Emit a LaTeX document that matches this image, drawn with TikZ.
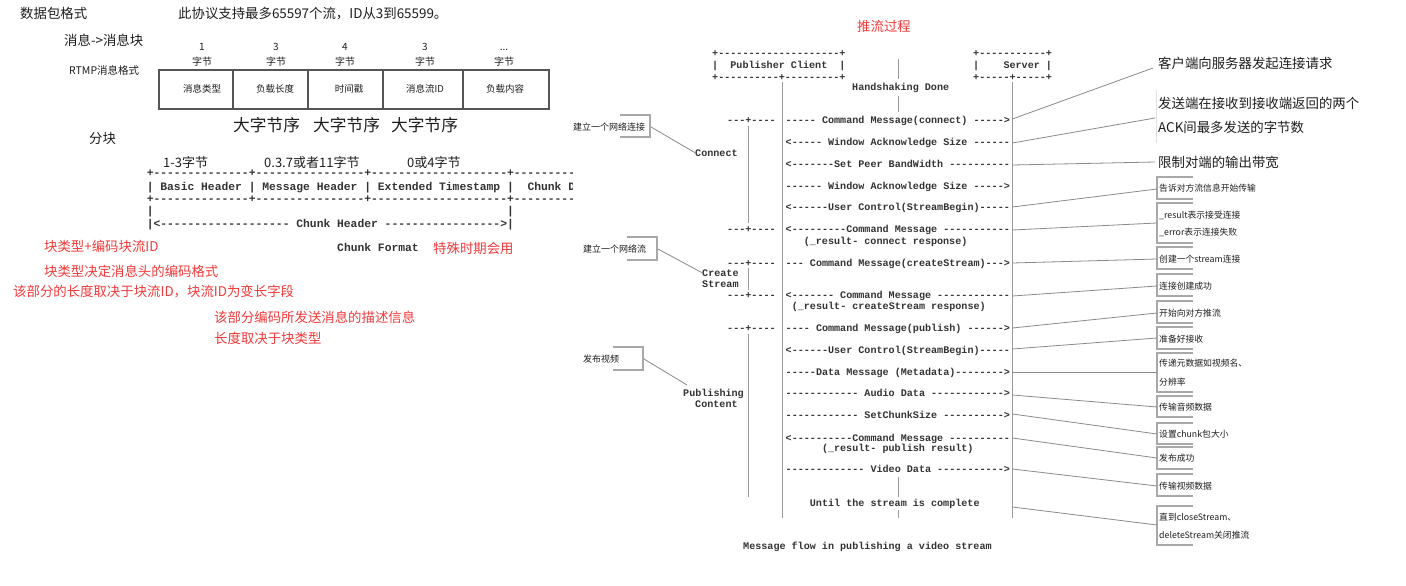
\documentclass[tikz,border=0pt]{standalone}
\usepackage{fontspec}
\setmonofont{Liberation Mono}
\newfontfamily\cjk{Noto Sans CJK SC}
\definecolor{rred}{HTML}{F23A3A}
\definecolor{ink}{HTML}{1E1E1E}
\definecolor{asc}{HTML}{333333}
\definecolor{lgray}{HTML}{8A8A8A}
\definecolor{bgray}{HTML}{A8A8A8}
\definecolor{lifec}{HTML}{9A9A9A}
\definecolor{rectc}{HTML}{555555}
\tikzset{
  cj/.style={font=\cjk\fontsize{#1}{#1}\selectfont, inner sep=0pt, anchor=base west, yshift={-0.38*#1pt}, text=ink},
  cjc/.style={cj=#1, anchor=base},
  redtxt/.style={text=rred},
  ms/.style={font=\ttfamily\bfseries\fontsize{#1}{#1}\selectfont, inner sep=0pt, anchor=base west, yshift={-0.3*#1pt}, text=asc},
  lifeline/.style={draw=lifec, line width=0.8pt},
  callout/.style={draw=lgray, line width=0.8pt},
  brk/.style={draw=bgray, line width=1.2pt},
}
\begin{document}
\begin{tikzpicture}[x=1pt,y=-1pt]
\useasboundingbox (0,0) rectangle (1406,586);
\fill[white] (0,0) rectangle (1406,586);

% ---------------- left: packet format ----------------
\node[cj=13.4] (t1) at (20,13) {数据包格式};
\node[cj=13.4] (t2) at (178,13) {此协议支持最多65597个流，ID从3到65599。};
\node[cj=13.4] (t3) at (64,40) {消息->消息块};
\node[cj=10.5] (t4) at (69,71) {RTMP消息格式};

\node[cjc=10] (n1) at (202,47) {1};
\node[cjc=10] (n2) at (276,47) {3};
\node[cjc=10] (n3) at (345,47) {4};
\node[cjc=10] (n4) at (425,47) {3};
\node[cjc=10] (n5) at (504,47) {...};
\node[cjc=10] (b1) at (202,62) {字节};
\node[cjc=10] (b2) at (276,62) {字节};
\node[cjc=10] (b3) at (345,62) {字节};
\node[cjc=10] (b4) at (425,62) {字节};
\node[cjc=10] (b5) at (504,62) {字节};

\draw[draw=rectc, line width=1.1pt] (159,70) rectangle (549,109);
\foreach \xx in {233,308,383,463} \draw[draw=rectc, line width=1.1pt] (\xx,70) -- (\xx,109);
\node[cjc=9.5] (c1) at (202,89) {消息类型};
\node[cjc=9.5] (c2) at (275,89) {负载长度};
\node[cjc=9.5] (c3) at (349,89) {时间戳};
\node[cjc=9.5] (c4) at (425,89) {消息流ID};
\node[cjc=9.5] (c5) at (505,89) {负载内容};

\node[cj=16.7] (e1) at (233,125) {大字节序};
\node[cj=16.7] (e2) at (313,125) {大字节序};
\node[cj=16.7] (e3) at (391,125) {大字节序};

\node[cj=13.4] (fk) at (89,138) {分块};
\node[cj=13] (s1) at (163,163) {1-3字节};
\node[cj=13] (s2) at (264,163) {0.3.7或者11字节};
\node[cj=13] (s3) at (407,163) {0或4字节};

\begin{scope}
\clip (0,0) rectangle (572,586);
\node[ms=11.33] (r1) at (146.6,173) {+--------------+----------------+--------------------+---------};
\node[ms=11.33] (r2) at (146.6,187) {|~Basic~Header~|~Message~Header~|~Extended~Timestamp~|~~Chunk~Data};
\node[ms=11.33] (r3) at (146.6,199) {+--------------+----------------+--------------------+---------};
\end{scope}
\node[ms=11.33] (r4a) at (146.6,211) {|};
\node[ms=11.33] (r4b) at (507,211) {|};
\node[ms=11.33] (r5) at (146.6,224) {|<------------------- Chunk Header ----------------->|};
\node[ms=11.33] (cf) at (337,248) {Chunk~Format};

\node[cj=13.4, redtxt] (q1) at (44,246) {块类型+编码块流ID};
\node[cj=13.4, redtxt] (q2) at (433,248) {特殊时期会用};
\node[cj=13.4, redtxt] (q3) at (44,271) {块类型决定消息头的编码格式};
\node[cj=13.4, redtxt] (q4) at (13,291) {该部分的长度取决于块流ID，块流ID为变长字段};
\node[cj=13.4, redtxt] (q5) at (214,317) {该部分编码所发送消息的描述信息};
\node[cj=13.4, redtxt] (q6) at (214,338) {长度取决于块类型};

% ---------------- right: publishing flow ----------------
\node[cj=13.4, redtxt] (ttl) at (857,26) {推流过程};

\node[ms=10.1] (cb1) at (712,53) {+--------------------+};
\node[ms=10.1] (cb2) at (712,65) {|~~Publisher~Client~~|};
\node[ms=10.1] (cb3) at (712,77) {+----------+---------+};
\node[ms=10.1] (sb1) at (973,53) {+-----------+};
\node[ms=10.1] (sb2) at (973,65) {|~~~~Server~|};
\node[ms=10.1] (sb3) at (973,77) {+-----+-----+};

\coordinate (cl0) at (782.5,82);  \coordinate (cl1) at (782.5,518);
\coordinate (sl0) at (1012.4,82); \coordinate (sl1) at (1012.4,518);
\draw[lifeline] (cl0) -- (cl1);
\draw[lifeline] (sl0) -- (sl1);
\draw[lifeline] (898.5,59) -- (898.5,79);
\draw[lifeline] (898.5,96) -- (898.5,112);
\draw[lifeline] (898.5,477) -- (898.5,497);
\draw[lifeline] (898.5,510) -- (898.5,518);

\node[ms=10.1] (hd) at (852,87) {Handshaking~Done};

% brackets on the left of the client line
\node[ms=10.1] (k1) at (727,120) {---+----};
\node[ms=10.1] (k2) at (727,229) {---+----};
\node[ms=10.1] (k3) at (727,263) {---+----};
\node[ms=10.1] (k4) at (727,295) {---+----};
\node[ms=10.1] (k5) at (727,328) {---+----};
\draw[lifeline] (748.2,126) -- (748.2,223);
\draw[lifeline] (748.2,268) -- (748.2,290);
\draw[lifeline] (748.2,334) -- (748.2,497);

\node[ms=10.1] (lc) at (695,153) {Connect};
\node[ms=10.1] (lcs1) at (702,273) {Create};
\node[ms=10.1] (lcs2) at (702,284) {Stream};
\node[ms=10.1] (lp1) at (683,393) {Publishing};
\node[ms=10.1] (lp2) at (695,404) {Content};

% messages
\node[ms=10.1] (m1) at (785.5,120) {-----~Command~Message(connect)~----->};
\node[ms=10.1] (m2) at (785.5,142) {<-----~Window~Acknowledge~Size~------};
\node[ms=10.1] (m3) at (785.5,164) {<-------Set~Peer~BandWidth~----------};
\node[ms=10.1] (m4) at (785.5,186) {------~Window~Acknowledge~Size~----->};
\node[ms=10.1] (m5) at (785.5,207) {<------User~Control(StreamBegin)-----};
\node[ms=10.1] (m6) at (785.5,229) {<---------Command~Message~-----------};
\node[ms=10.1] (m6b) at (803.6,241) {(\_result-~connect~response)};
\node[ms=10.1] (m7) at (785.5,263) {---~Command~Message(createStream)--->};
\node[ms=10.1] (m8) at (785.5,295) {<-------~Command~Message~------------};
\node[ms=10.1] (m8b) at (791.6,306) {(\_result-~createStream~response)};
\node[ms=10.1] (m9) at (785.5,328) {----~Command~Message(publish)~------>};
\node[ms=10.1] (m10) at (785.5,350) {<------User~Control(StreamBegin)-----};
\node[ms=10.1] (m11) at (785.5,372) {-----Data~Message~(Metadata)-------->};
\node[ms=10.1] (m12) at (785.5,393) {------------~Audio~Data~------------>};
\node[ms=10.1] (m13) at (785.5,415) {------------~SetChunkSize~---------->};
\node[ms=10.1] (m14) at (785.5,438) {<----------Command~Message~----------};
\node[ms=10.1] (m14b) at (821.8,448) {(\_result-~publish~result)};
\node[ms=10.1] (m15) at (785.5,469) {-------------~Video~Data~----------->};
\node[ms=10.1] (m16) at (809.7,503) {Until~the~stream~is~complete};
\node[ms=10.1] (cap) at (743,546) {Message~flow~in~publishing~a~video~stream};

% left callouts
\node[cj=9] (a1) at (573,127) {建立一个网络连接};
\draw[brk] (620,115) -- (650,115) -- (650,137) -- (620,137);
\coordinate (a1p) at (651,127);
\draw[callout] (a1p) -- (lc.west);
\node[cj=9] (a2) at (583,249) {建立一个网络流};
\draw[brk] (627,237) -- (657,237) -- (657,260) -- (627,260);
\coordinate (a2p) at (658,249);
\draw[callout] (a2p) -- (lcs1.west);
\node[cj=9] (a3) at (583,359) {发布视频};
\draw[brk] (613,347) -- (643,347) -- (643,370) -- (613,370);
\coordinate (a3p) at (644,359);
\coordinate (a3q) at (687,385);
\draw[callout] (a3p) -- (a3q);

% right big annotations
\node[cj=13.4] (g1) at (1158,63) {客户端向服务器发起连接请求};
\node[cj=13.4] (g2) at (1158,103) {发送端在接收到接收端返回的两个};
\node[cj=13.4] (g2b) at (1158,127) {ACK间最多发送的字节数};
\node[cj=13.4] (g3) at (1158,162) {限制对端的输出带宽};
\draw[draw=black!12, line width=0.8pt] (1156,90) -- (1156,143);
\draw[callout] (1012.4,119) -- (1153,68);
\draw[callout] (1012.4,143) -- (1155,118);
\draw[callout] (1012.4,165) -- (1155,162);

% right small boxed annotations
\foreach \ya/\yb in {177/199, 203/243, 247/269, 274/296, 301/323, 327/349, 353/392, 396/417, 423/444, 447/469, 474/496, 506/545}
  \draw[brk] (1193,\ya) -- (1157,\ya) -- (1157,\yb) -- (1193,\yb);
\node[cj=8.8] (h1) at (1159,188) {告诉对方流信息开始传输};
\node[cj=8.8] (h2) at (1159,215) {\_result表示接受连接};
\node[cj=8.8] (h2b) at (1159,232) {\_error表示连接失败};
\node[cj=8.8] (h3) at (1159,259) {创建一个stream连接};
\node[cj=8.8] (h4) at (1159,286) {连接创建成功};
\node[cj=8.8] (h5) at (1159,313) {开始向对方推流};
\node[cj=8.8] (h6) at (1159,339) {准备好接收};
\node[cj=8.8] (h7) at (1159,363) {传递元数据如视频名、};
\node[cj=8.8] (h7b) at (1159,382) {分辨率};
\node[cj=8.8] (h8) at (1159,407) {传输音频数据};
\node[cj=8.8] (h9) at (1159,434) {设置chunk包大小};
\node[cj=8.8] (h10) at (1159,458) {发布成功};
\node[cj=8.8] (h11) at (1159,486) {传输视频数据};
\node[cj=8.8] (h12) at (1159,517) {直到closeStream、};
\node[cj=8.8] (h12b) at (1159,535) {deleteStream关闭推流};
\foreach \ya/\yb in {207/189, 230/223, 263/259, 296/286, 328/313, 349/338, 372/372, 395/407, 414/434, 438/458, 469/486, 507/525}
  \draw[callout] (1012.4,\ya) -- (1157,\yb);
\end{tikzpicture}
\end{document}
